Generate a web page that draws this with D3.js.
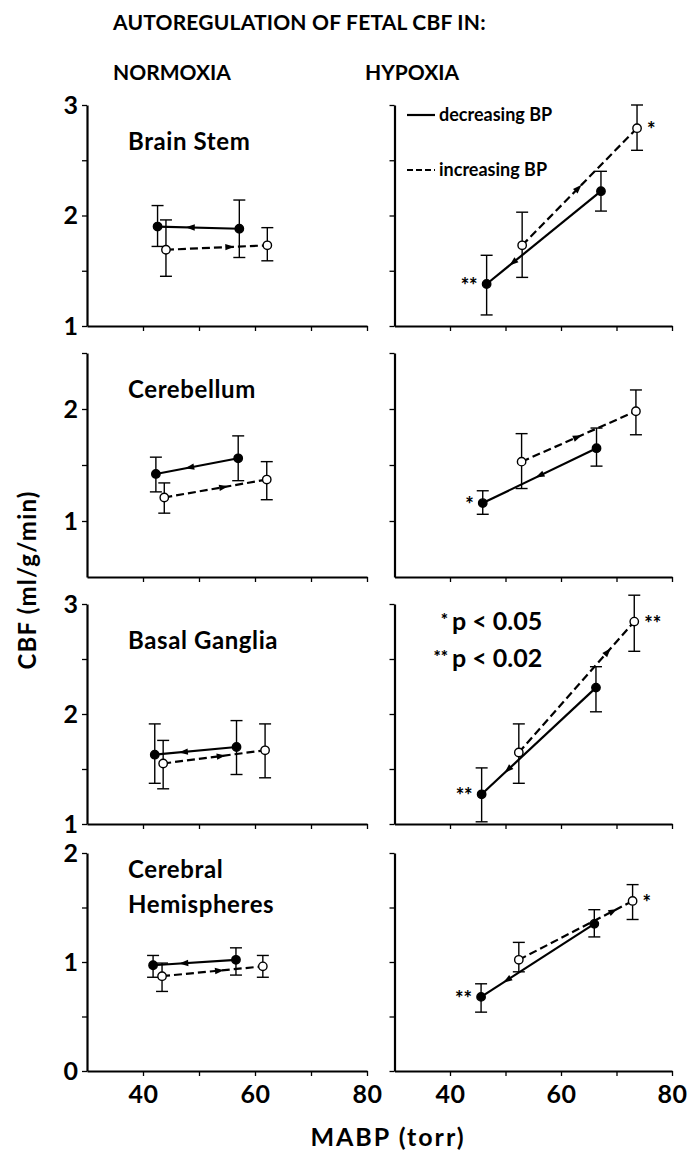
<!DOCTYPE html>
<html><head><meta charset="utf-8">
<script src="https://cdn.jsdelivr.net/npm/d3@7"></script>
<style>
html,body{margin:0;padding:0;background:#fff;}
text{font-family:"Lato","DejaVu Sans",sans-serif;fill:#000;}
</style></head>
<body>
<svg id="chart" width="689" height="1150"></svg>
<script>
// ---------- DATA ----------
const regions = ["Brain Stem", "Cerebellum", "Basal Ganglia", "Cerebral|Hemispheres"];
const yDomains = [[1, 3], [0.5, 2.5], [1, 3], [0, 2]];
const yTickValues = [[1, 1.5, 2, 2.5, 3], [1, 1.5, 2, 2.5], [1, 1.5, 2, 2.5, 3], [0, 0.5, 1, 1.5, 2]];
const yTickLabels = [[1, 2, 3], [1, 2], [1, 2, 3], [0, 1, 2]];
const xTickValues = [40, 50, 60, 70, 80];
const xTickLabels = [40, 60, 80];

// Normoxia — decreasing BP (filled, solid)
const normDecX  = [[42.6, 57.2], [42.3, 57.0], [42.1, 56.7], [41.8, 56.6]];
const normDecY  = [[1.90, 1.88], [1.42, 1.56], [1.63, 1.70], [0.97, 1.02]];
const normDecHi = [[2.09, 2.14], [1.57, 1.76], [1.91, 1.94], [1.06, 1.13]];
const normDecLo = [[1.72, 1.62], [1.26, 1.36], [1.37, 1.45], [0.86, 0.88]];
// Normoxia — increasing BP (open, dashed)
const normIncX  = [[44.1, 62.2], [43.8, 62.1], [43.6, 61.8], [43.4, 61.4]];
const normIncY  = [[1.69, 1.73], [1.21, 1.37], [1.55, 1.67], [0.87, 0.96]];
const normIncHi = [[1.96, 1.89], [1.34, 1.53], [1.76, 1.91], [0.99, 1.06]];
const normIncLo = [[1.45, 1.59], [1.07, 1.19], [1.32, 1.42], [0.73, 0.86]];
// Hypoxia — decreasing BP
const hypDecX  = [[46.6, 67.2], [45.9, 66.4], [45.7, 66.3], [45.6, 66.0]];
const hypDecY  = [[1.38, 2.22], [1.16, 1.65], [1.27, 2.24], [0.68, 1.35]];
const hypDecHi = [[1.64, 2.40], [1.27, 1.83], [1.51, 2.43], [0.80, 1.48]];
const hypDecLo = [[1.10, 2.04], [1.06, 1.49], [1.02, 2.02], [0.54, 1.23]];
// Hypoxia — increasing BP
const hypIncX  = [[53.0, 73.7], [52.9, 73.5], [52.4, 73.2], [52.4, 72.9]];
const hypIncY  = [[1.73, 2.79], [1.53, 1.98], [1.65, 2.84], [1.02, 1.56]];
const hypIncHi = [[2.03, 3.00], [1.78, 2.17], [1.91, 3.08], [1.18, 1.71]];
const hypIncLo = [[1.44, 2.59], [1.29, 1.77], [1.37, 2.57], [0.91, 1.39]];
// significance marks (hypoxia): at low decreasing point, at high increasing point
const hypDecSig = ["**", "*", "**", "**"];
const hypIncSig = ["*", "", "**", "*"];
// where the direction arrow sits along each segment (fraction from low-BP end)
const normDecArrow = [0.40, 0.41, 0.35, 0.37];
const normIncArrow = [0.63, 0.58, 0.57, 0.57];
const hypDecArrow  = [0.23, 0.50, 0.23, 0.23];
const hypIncArrow  = [0.49, 0.49, 0.77, 0.83];

// ---------- LAYOUT ----------
const svg = d3.select("#chart");
const panelTop = [105, 353, 604, 853];
const panelBottom = [326, 577, 824, 1071];
const xLeft = d3.scaleLinear().domain([30, 80]).range([87, 367]);
const xRight = d3.scaleLinear().domain([30, 80]).range([394.5, 672]);
const FONT = '"Lato","DejaVu Sans",sans-serif';

// titles
svg.append("text").attr("x", 113).attr("y", 30).attr("font-size", 21).attr("font-weight", 700)
  .attr("letter-spacing", 0.2).text("AUTOREGULATION OF FETAL CBF IN:");
svg.append("text").attr("x", 113).attr("y", 80).attr("font-size", 21).attr("font-weight", 700).text("NORMOXIA");
svg.append("text").attr("x", 365).attr("y", 80).attr("font-size", 21).attr("font-weight", 700).text("HYPOXIA");

// axis titles
svg.append("text").attr("transform", "translate(36,580) rotate(-90)").attr("text-anchor", "middle")
  .attr("font-size", 24).attr("font-weight", 700).attr("letter-spacing", 1.2).text("CBF (ml/g/min)");
svg.append("text").attr("x", 388).attr("y", 1146).attr("text-anchor", "middle")
  .attr("font-size", 25).attr("font-weight", 700).attr("letter-spacing", 2).text("MABP (torr)");

function arrowHead(g, x1, y1, x2, y2, frac) {
  const px = x1 + (x2 - x1) * frac, py = y1 + (y2 - y1) * frac;
  const ang = Math.atan2(y2 - y1, x2 - x1);
  const L = 9, W = 3.2;
  const tip = [px + Math.cos(ang) * L / 2, py + Math.sin(ang) * L / 2];
  const back = [px - Math.cos(ang) * L / 2, py - Math.sin(ang) * L / 2];
  const nx = -Math.sin(ang) * W, ny = Math.cos(ang) * W;
  g.append("path")
    .attr("d", `M${tip[0]},${tip[1]}L${back[0] + nx},${back[1] + ny}L${back[0] - nx},${back[1] - ny}Z`)
    .attr("fill", "#000");
}

function drawSeries(g, x, y, xs, ys, his, los, dashed, arrowFrac, towardHigh) {
  const pts = xs.map((v, i) => [x(v), y(ys[i])]);
  xs.forEach((v, i) => {
    const cx = x(v);
    g.append("line").attr("x1", cx).attr("x2", cx).attr("y1", y(his[i])).attr("y2", y(los[i]))
      .attr("stroke", "#000").attr("stroke-width", 1.4);
    [his[i], los[i]].forEach(e => {
      g.append("line").attr("x1", cx - 6).attr("x2", cx + 6).attr("y1", y(e)).attr("y2", y(e))
        .attr("stroke", "#000").attr("stroke-width", 1.4);
    });
  });
  g.append("path").attr("d", d3.line()(pts)).attr("fill", "none").attr("stroke", "#000")
    .attr("stroke-width", 2.2).attr("stroke-dasharray", dashed ? "8,4" : null);
  const [a, b] = pts;
  if (towardHigh) arrowHead(g, a[0], a[1], b[0], b[1], arrowFrac);
  else arrowHead(g, b[0], b[1], a[0], a[1], 1 - arrowFrac);
  pts.forEach(p => {
    g.append("circle").attr("cx", p[0]).attr("cy", p[1]).attr("r", 4.2)
      .attr("fill", dashed ? "#fff" : "#000").attr("stroke", "#000").attr("stroke-width", 1.4);
  });
  return pts;
}

regions.forEach((name, k) => {
  const y = d3.scaleLinear().domain(yDomains[k]).range([panelBottom[k], panelTop[k]]);
  [0, 1].forEach(side => {
    const x = side === 0 ? xLeft : xRight;
    const g = svg.append("g");
    const ya = d3.axisLeft(y).tickValues(yTickValues[k]).tickSize(5).tickSizeOuter(0)
      .tickFormat(d => (side === 0 && yTickLabels[k].includes(d)) ? d3.format("d")(d) : "");
    const yg = g.append("g").attr("transform", `translate(${x.range()[0]},0)`).call(ya);
    yg.select(".domain").attr("stroke-width", 2.2);
    yg.selectAll(".tick line").attr("stroke-width", 1.3);
    yg.selectAll(".tick text").attr("font-size", 25).attr("font-weight", 700)
      .attr("font-family", FONT).attr("dx", -1);
    const xa = d3.axisBottom(x).tickValues(xTickValues).tickSize(5).tickSizeOuter(0)
      .tickFormat(d => (k === 3 && xTickLabels.includes(d)) ? d : "");
    const xg = g.append("g").attr("transform", `translate(0,${panelBottom[k]})`).call(xa);
    xg.select(".domain").attr("stroke-width", 2.2);
    xg.selectAll(".tick line").attr("stroke-width", 1.3);
    xg.selectAll(".tick text").attr("font-size", 25).attr("font-weight", 700)
      .attr("font-family", FONT).attr("dy", "0.95em").attr("letter-spacing", 0.5);

    if (side === 0) {
      const lines = name.split("|");
      lines.forEach((ln, j) => {
        g.append("text").attr("x", 128).attr("y", (k === 3 ? panelTop[k] + 25 : panelTop[k] + 45) + j * 35)
          .attr("font-size", 24).attr("font-weight", 700).attr("letter-spacing", 0.6).text(ln);
      });
      drawSeries(g, x, y, normDecX[k], normDecY[k], normDecHi[k], normDecLo[k], false, normDecArrow[k], false);
      drawSeries(g, x, y, normIncX[k], normIncY[k], normIncHi[k], normIncLo[k], true, normIncArrow[k], true);
    } else {
      const d = drawSeries(g, x, y, hypDecX[k], hypDecY[k], hypDecHi[k], hypDecLo[k], false, hypDecArrow[k], false);
      const i = drawSeries(g, x, y, hypIncX[k], hypIncY[k], hypIncHi[k], hypIncLo[k], true, hypIncArrow[k], true);
      if (hypDecSig[k]) g.append("text").attr("x", d[0][0] - 9).attr("y", d[0][1] + 9)
        .attr("text-anchor", "end").attr("font-size", 20).attr("font-weight", 900).text(hypDecSig[k]);
      if (hypIncSig[k]) g.append("text").attr("x", i[1][0] + 10).attr("y", i[1][1] + 9)
        .attr("text-anchor", "start").attr("font-size", 20).attr("font-weight", 900).text(hypIncSig[k]);
    }
  });
});

// legend (top right panel)
const lg = svg.append("g");
lg.append("line").attr("x1", 407).attr("x2", 435).attr("y1", 115).attr("y2", 115).attr("stroke", "#000").attr("stroke-width", 2.2);
lg.append("text").attr("x", 439).attr("y", 121).attr("font-size", 18).attr("font-weight", 700).text("decreasing BP");
lg.append("line").attr("x1", 407).attr("x2", 435).attr("y1", 170).attr("y2", 170).attr("stroke", "#000").attr("stroke-width", 2.2).attr("stroke-dasharray", "6,3");
lg.append("text").attr("x", 439).attr("y", 176).attr("font-size", 18).attr("font-weight", 700).text("increasing BP");

// significance key
svg.append("text").attr("x", 452).attr("y", 630).attr("font-size", 25).attr("font-weight", 700).text("p < 0.05");
svg.append("text").attr("x", 448).attr("y", 626).attr("text-anchor", "end").attr("font-size", 17).attr("font-weight", 900).text("*");
svg.append("text").attr("x", 452).attr("y", 667).attr("font-size", 25).attr("font-weight", 700).text("p < 0.02");
svg.append("text").attr("x", 448).attr("y", 663).attr("text-anchor", "end").attr("font-size", 17).attr("font-weight", 900).text("**");
</script>
</body></html>
